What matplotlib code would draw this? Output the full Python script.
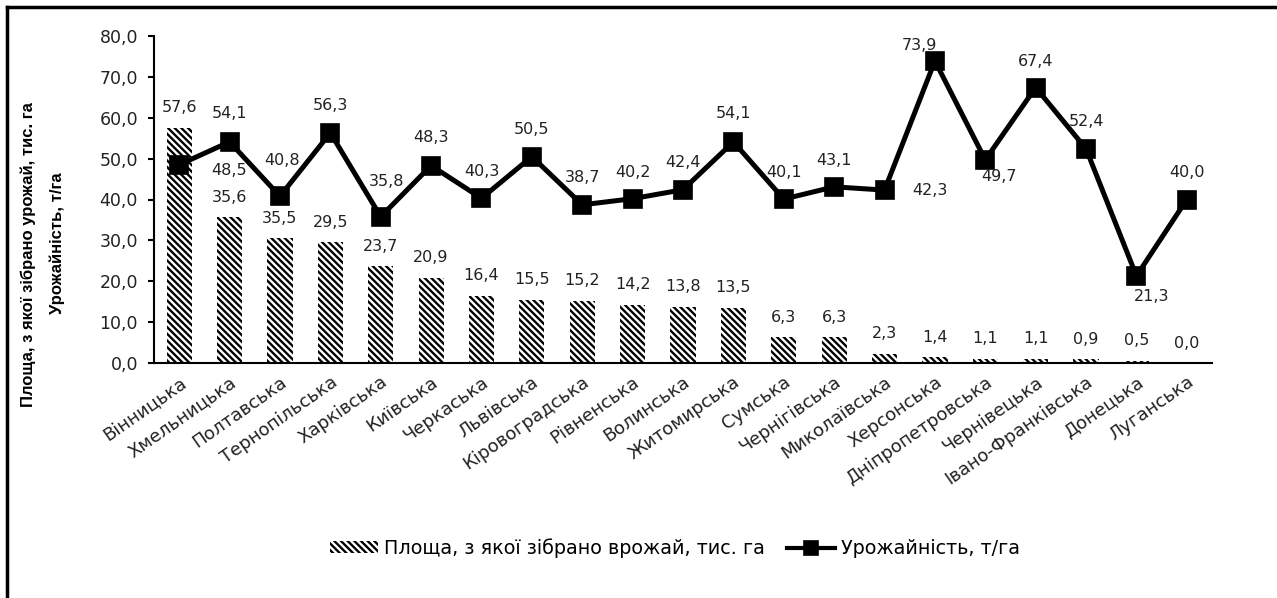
import matplotlib
matplotlib.use("Agg")
import matplotlib.pyplot as plt
from matplotlib.patches import Patch
from matplotlib.lines import Line2D

regions = ["Вінницька", "Хмельницька", "Полтавська", "Тернопільська", "Харківська",
           "Київська", "Черкаська", "Львівська", "Кіровоградська", "Рівненська",
           "Волинська", "Житомирська", "Сумська", "Чернігівська", "Миколаївська",
           "Херсонська", "Дніпропетровська", "Чернівецька", "Івано-Франківська",
           "Донецька", "Луганська"]
area = [57.6, 35.6, 30.5, 29.5, 23.7, 20.9, 16.4, 15.5, 15.2, 14.2, 13.8, 13.5,
        6.3, 6.3, 2.3, 1.4, 1.1, 1.1, 0.9, 0.5, 0.0]
area_labels = ["57,6", "35,6", "35,5", "29,5", "23,7", "20,9", "16,4", "15,5", "15,2",
               "14,2", "13,8", "13,5", "6,3", "6,3", "2,3", "1,4", "1,1", "1,1",
               "0,9", "0,5", "0,0"]
yield_vals = [48.5, 54.1, 40.8, 56.3, 35.8, 48.3, 40.3, 50.5, 38.7, 40.2, 42.4, 54.1,
              40.1, 43.1, 42.3, 73.9, 49.7, 67.4, 52.4, 21.3, 40.0]
yticks = [0, 10, 20, 30, 40, 50, 60, 70, 80]
area_name = "Площа, з якої зібрано врожай, тис. га"
yield_name = "Урожайність, т/га"
ylabel1 = "Площа, з якої зібрано урожай, тис. га"
ylabel2 = "Урожайність, т/га"

# label offsets for the line (pixels: dx, dy up)
line_offsets = [(50, -6), (0, 28), (2, 36), (0, 27), (6, 35), (0, 28), (0, 27), (0, 27),
                (0, 27), (0, 26), (0, 27), (0, 28), (0, 27), (0, 26), (45, 0), (-15, 15),
                (14, -17), (0, 26), (0, 27), (15, -21), (0, 27)]

DPI = 120
F = 100 / DPI          # sizes below are given as if at 100 dpi
PX = 72 / DPI          # pixels -> points

plt.rcParams['hatch.linewidth'] = 1.4
num_font = ['DejaVu Sans']
HATCH = chr(92) * 6

fig = plt.figure(figsize=(1277 / DPI, 598 / DPI), dpi=DPI)
ax = fig.add_axes([154/1277, 1-363/598, (1212-154)/1277, (363-36)/598])

x = list(range(len(regions)))
ax.bar(x, area, width=0.5, facecolor='white', edgecolor='black', linewidth=0,
       hatch=HATCH, zorder=2)
ax.plot(x, yield_vals, color='black', lw=3.6*F, marker='s', markersize=13*F, zorder=3)

for xi, v, lab in zip(x, area, area_labels):
    ax.annotate(lab, (xi, v), xytext=(0, 20*PX), textcoords='offset points',
                ha='center', va='center', fontsize=11.5*F, family=num_font, color='#222222')
for xi, v, (dx, dy) in zip(x, yield_vals, line_offsets):
    ax.annotate(f"{v:.1f}".replace('.', ','), (xi, v), xytext=(dx*PX, dy*PX),
                textcoords='offset points', ha='center', va='center', fontsize=11.5*F,
                family=num_font, color='#222222', zorder=4)

ax.set_xlim(-0.5, len(regions)-0.5)
ax.set_ylim(0, 80)
ax.set_yticks(yticks)
ax.set_yticklabels([f"{t:.1f}".replace('.', ',') for t in yticks], fontsize=12.5*F,
                   family=num_font, color='#222222')
ax.tick_params(axis='y', length=6*PX, width=1.5*F, pad=10*PX)
ax.set_xticks(x)
ax.set_xticklabels(regions, rotation=35, ha='right', va='top', rotation_mode='anchor',
                   fontsize=13*F, family=['DejaVu Sans'], color='#222222')
ax.tick_params(axis='x', length=0, pad=10*PX)
for s in ['top', 'right']:
    ax.spines[s].set_visible(False)
ax.spines['left'].set_linewidth(1.5*F)
ax.spines['bottom'].set_linewidth(1.5*F)

fig.text(28/1277, 1-255/598, ylabel1, rotation=90, ha='center', va='center',
         fontsize=12*F, fontweight='bold', family=['Liberation Sans', 'DejaVu Sans'])
fig.text(57/1277, 1-243/598, ylabel2, rotation=90, ha='center', va='center',
         fontsize=12*F, fontweight='bold', family=['Liberation Sans', 'DejaVu Sans'])

handles = [Patch(facecolor='white', edgecolor='black', linewidth=0, hatch=HATCH),
           Line2D([], [], color='black', lw=3*F, marker='s', markersize=10*F)]
fig.legend(handles, [area_name, yield_name], loc='center', bbox_to_anchor=(675/1277, 1-548/598),
           ncol=2, frameon=False, handlelength=2.5, handleheight=0.55, handletextpad=0.3,
           columnspacing=1.2, prop={'family': ['DejaVu Sans'], 'size': 13.8*F})

fig.add_artist(Line2D([7/1277, 7/1277], [0, 1-7/598], color='black', lw=2.5*F))
fig.add_artist(Line2D([7/1277, 1], [1-7/598, 1-7/598], color='black', lw=2.5*F))

fig.savefig("out.png", dpi=DPI)
